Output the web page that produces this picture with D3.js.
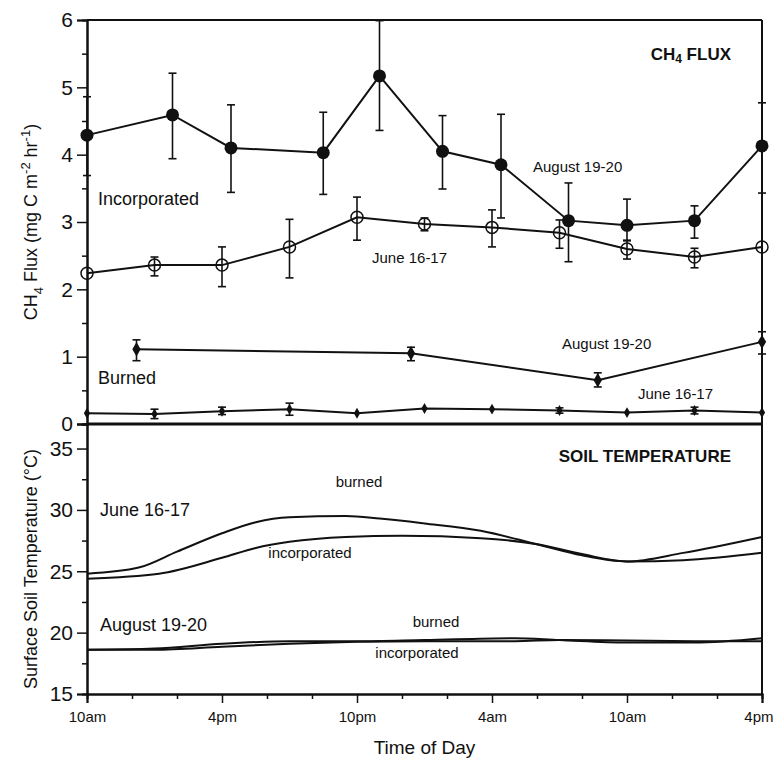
<!DOCTYPE html>
<html>
<head>
<meta charset="utf-8">
<script src="https://cdn.jsdelivr.net/npm/d3@7"></script>
<style>
  body { margin: 0; background: #fff; }
  svg text { font-family: "Liberation Sans", Arial, sans-serif; fill: #111; }
</style>
</head>
<body>
<div class="chart"></div>
<script>
// hours after 10am on day 1
const xTickHours = [0, 6, 12, 18, 24, 30];
const xTickLabels = ["10am", "4pm", "10pm", "4am", "10am", "4pm"];

// CH4 flux, incorporated, August 19-20
const augIncHours = [0, 3.8, 6.4, 10.5, 13, 15.8, 18.4, 21.4, 24, 27, 30];
const augIncFlux = [4.29, 4.59, 4.10, 4.03, 5.17, 4.05, 3.85, 3.02, 2.95, 3.02, 4.13];
const augIncLow = [3.69, 3.94, 3.44, 3.41, 4.36, 3.49, 3.06, 2.41, 2.72, 2.76, 3.43];
const augIncHigh = [4.86, 5.21, 4.74, 4.63, 5.99, 4.58, 4.60, 3.58, 3.34, 3.24, 4.77];

// CH4 flux, incorporated, June 16-17
const junIncHours = [0, 3, 6, 9, 12, 15, 18, 21, 24, 27, 30];
const junIncFlux = [2.24, 2.36, 2.36, 2.63, 3.07, 2.97, 2.92, 2.84, 2.60, 2.48, 2.63];
const junIncLow = [null, 2.20, 2.04, 2.17, 2.73, 2.87, 2.63, 2.61, 2.45, 2.32, null];
const junIncHigh = [null, 2.48, 2.63, 3.04, 3.37, 3.06, 3.18, 3.03, 2.73, 2.61, null];

// CH4 flux, burned, August 19-20
const augBurHours = [2.2, 14.4, 22.7, 30];
const augBurFlux = [1.11, 1.05, 0.65, 1.22];
const augBurLow = [0.94, 0.94, 0.55, 1.04];
const augBurHigh = [1.25, 1.14, 0.76, 1.37];

// CH4 flux, burned, June 16-17
const junBurHours = [0, 3, 6, 9, 12, 15, 18, 21, 24, 27, 30];
const junBurFlux = [0.16, 0.15, 0.19, 0.22, 0.16, 0.23, 0.22, 0.20, 0.17, 0.20, 0.17];
const junBurLow = [null, 0.08, 0.14, 0.13, null, null, null, 0.16, null, 0.15, null];
const junBurHigh = [null, 0.22, 0.25, 0.31, null, null, null, 0.24, null, 0.25, null];

// soil temperature
const junBurTHours = [0, 2.3, 4, 6, 7.5, 9, 11.5, 13, 15, 17.5, 20, 22, 24, 26.5, 30];
const junBurTemp = [24.8, 25.3, 26.6, 28.1, 29.0, 29.4, 29.5, 29.3, 28.9, 28.3, 27.2, 26.3, 25.8, 26.5, 27.8];
const junIncTHours = [0, 3.2, 6, 7.5, 9, 11.5, 14, 17.5, 20, 22, 24, 26.5, 30];
const junIncTemp = [24.4, 24.8, 26.1, 26.9, 27.4, 27.8, 27.9, 27.7, 27.2, 26.4, 25.8, 25.9, 26.5];
const augTHours = [0, 3, 6, 9, 12, 15, 19, 21, 24, 27, 30];
const augBurTemp = [18.6, 18.7, 19.1, 19.3, 19.3, 19.4, 19.55, 19.4, 19.2, 19.2, 19.55];
const augIncTemp = [18.6, 18.6, 18.85, 19.1, 19.25, 19.3, 19.3, 19.4, 19.35, 19.3, 19.3];

const W = 774, H = 766;
const plotLeft = 87, plotRight = 762, plotTop = 20, plotMid = 424, plotBottom = 694;

const svg = d3.select(".chart").append("svg")
    .attr("width", W)
    .attr("height", H);

const x = d3.scaleLinear().domain([0, 30]).range([plotLeft, plotRight]);
const yFlux = d3.scaleLinear().domain([0, 6]).range([plotMid, plotTop]);
const yTemp = d3.scaleLinear().domain([15, 37]).range([plotBottom, plotMid]);

// ---- axes ----
function styleAxis(g, fs){
    g.select(".domain").attr("stroke", "#111").attr("stroke-width", 2);
    g.selectAll(".tick line").attr("stroke", "#111").attr("stroke-width", 1.5);
    g.selectAll(".tick text").style("font-size", fs + "px").attr("fill", "#111");
}

svg.append("g")
    .attr("transform", `translate(${plotLeft},0)`)
    .call(d3.axisLeft(yFlux).tickValues(d3.range(0.5, 6, 1)).tickSize(5).tickFormat(""))
    .call(g => styleAxis(g, 20));
svg.append("g")
    .attr("transform", `translate(${plotLeft},0)`)
    .call(d3.axisLeft(yFlux).tickValues([0, 1, 2, 3, 4, 5, 6]).tickSize(10).tickPadding(4).tickFormat(d3.format("d")))
    .call(g => styleAxis(g, 21));

svg.append("g")
    .attr("transform", `translate(${plotLeft},0)`)
    .call(d3.axisLeft(yTemp).tickValues([17.5, 22.5, 27.5, 32.5]).tickSize(5).tickFormat(""))
    .call(g => styleAxis(g, 20));
svg.append("g")
    .attr("transform", `translate(${plotLeft},0)`)
    .call(d3.axisLeft(yTemp).tickValues([15, 20, 25, 30, 35]).tickSize(10).tickPadding(4).tickFormat(d3.format("d")))
    .call(g => styleAxis(g, 21));

svg.append("g")
    .attr("transform", `translate(0,${plotBottom})`)
    .call(d3.axisBottom(x).tickValues(d3.range(2, 30, 2).filter(h => h % 6 !== 0)).tickSize(5).tickFormat(""))
    .call(g => styleAxis(g, 15));
svg.append("g")
    .attr("transform", `translate(0,${plotBottom})`)
    .call(d3.axisBottom(x).tickValues(xTickHours).tickSize(9).tickPadding(8)
        .tickFormat((d, i) => xTickLabels[i]))
    .call(g => styleAxis(g, 15))
    .call(g => g.selectAll(".tick text").filter(d => d === 30)
        .attr("text-anchor", "end").attr("dx", 11));

// frame lines
svg.append("line").attr("x1", plotLeft).attr("x2", plotRight).attr("y1", plotTop).attr("y2", plotTop)
    .attr("stroke", "#111").attr("stroke-width", 2);
svg.append("line").attr("x1", plotRight).attr("x2", plotRight).attr("y1", plotTop).attr("y2", plotBottom)
    .attr("stroke", "#111").attr("stroke-width", 2);
svg.append("line").attr("x1", plotLeft).attr("x2", plotRight).attr("y1", yFlux(0)).attr("y2", yFlux(0))
    .attr("stroke", "#111").attr("stroke-width", 3);

// axis titles
svg.append("text")
    .attr("x", x(15)).attr("y", 754)
    .attr("text-anchor", "middle")
    .style("font-size", "19px")
    .text("Time of Day");

const t1 = svg.append("text")
    .attr("transform", `translate(37,${(plotTop + plotMid) / 2}) rotate(-90)`)
    .attr("text-anchor", "middle")
    .style("font-size", "18px");
t1.append("tspan").text("CH");
t1.append("tspan").attr("dy", 6).style("font-size", "13px").text("4");
t1.append("tspan").attr("dy", -6).text(" Flux (mg C m");
t1.append("tspan").attr("dy", -7).style("font-size", "13px").text("-2");
t1.append("tspan").attr("dy", 7).text(" hr");
t1.append("tspan").attr("dy", -7).style("font-size", "13px").text("-1");
t1.append("tspan").attr("dy", 7).text(")");

svg.append("text")
    .attr("transform", `translate(37,${(plotMid + plotBottom) / 2 + 10}) rotate(-90)`)
    .attr("text-anchor", "middle")
    .style("font-size", "18px")
    .text("Surface Soil Temperature (°C)");

// ---- flux series ----
const line = d3.line().x(d => x(d.h)).y(d => yFlux(d.v));

function toRows(hours, vals, lo, hi){
    return hours.map((h, i) => ({ h: h, v: vals[i], lo: lo[i], hi: hi[i] }));
}

function drawSeries(rows, marker){
    svg.append("path")
        .datum(rows)
        .attr("d", line)
        .attr("fill", "none")
        .attr("stroke", "#111")
        .attr("stroke-width", 2);

    const eb = rows.filter(d => d.lo != null);
    const g = svg.append("g").attr("stroke", "#111").attr("stroke-width", 1.6);
    g.selectAll(".v").data(eb).enter().append("line")
        .attr("x1", d => x(d.h)).attr("x2", d => x(d.h))
        .attr("y1", d => yFlux(d.lo)).attr("y2", d => yFlux(d.hi));
    g.selectAll(".lo").data(eb).enter().append("line")
        .attr("x1", d => x(d.h) - 4).attr("x2", d => x(d.h) + 4)
        .attr("y1", d => yFlux(d.lo)).attr("y2", d => yFlux(d.lo));
    g.selectAll(".hi").data(eb).enter().append("line")
        .attr("x1", d => x(d.h) - 4).attr("x2", d => x(d.h) + 4)
        .attr("y1", d => yFlux(d.hi)).attr("y2", d => yFlux(d.hi));

    if (marker === "filled"){
        svg.append("g").selectAll("circle").data(rows).enter().append("circle")
            .attr("cx", d => x(d.h)).attr("cy", d => yFlux(d.v)).attr("r", 6.5)
            .attr("fill", "#111");
    } else if (marker === "open"){
        svg.append("g").selectAll("circle").data(rows).enter().append("circle")
            .attr("cx", d => x(d.h)).attr("cy", d => yFlux(d.v)).attr("r", 6)
            .attr("fill", "none").attr("stroke", "#111").attr("stroke-width", 1.5);
    } else {
        const sz = marker === "diamond" ? 60 : 34;
        svg.append("g").selectAll("path").data(rows).enter().append("path")
            .attr("transform", d => `translate(${x(d.h)},${yFlux(d.v)})`)
            .attr("d", d3.symbol().type(d3.symbolDiamond).size(sz))
            .attr("fill", "#111");
    }
}

drawSeries(toRows(junIncHours, junIncFlux, junIncLow, junIncHigh), "open");
drawSeries(toRows(augIncHours, augIncFlux, augIncLow, augIncHigh), "filled");
drawSeries(toRows(augBurHours, augBurFlux, augBurLow, augBurHigh), "diamond");
drawSeries(toRows(junBurHours, junBurFlux, junBurLow, junBurHigh), "small");

// ---- soil temperature ----
const tline = d3.line().curve(d3.curveMonotoneX).x(d => x(d.h)).y(d => yTemp(d.v));
function drawTemp(hours, vals){
    svg.append("path")
        .datum(hours.map((h, i) => ({ h: h, v: vals[i] })))
        .attr("d", tline)
        .attr("fill", "none")
        .attr("stroke", "#111")
        .attr("stroke-width", 2);
}
drawTemp(junBurTHours, junBurTemp);
drawTemp(junIncTHours, junIncTemp);
drawTemp(augTHours, augBurTemp);
drawTemp(augTHours, augIncTemp);

// ---- annotations ----
function label(txt, cx, cy, fs, anchor, bold){
    return svg.append("text")
        .attr("x", cx).attr("y", cy)
        .attr("text-anchor", anchor || "start")
        .attr("dominant-baseline", "central")
        .style("font-size", fs + "px")
        .style("font-weight", bold ? "bold" : "normal")
        .text(txt);
}

const fluxTitle = svg.append("text")
    .attr("x", 731).attr("y", 54)
    .attr("text-anchor", "end")
    .attr("dominant-baseline", "central")
    .style("font-size", "17px")
    .style("font-weight", "bold");
fluxTitle.append("tspan").text("CH");
fluxTitle.append("tspan").attr("dy", 5).style("font-size", "12px").text("4");
fluxTitle.append("tspan").attr("dy", -5).text(" FLUX");

label("Incorporated", 98, 199, 18);
label("August 19-20", 533, 166, 15);
label("June 16-17", 372, 257, 15);
label("August 19-20", 562, 343, 15);
label("Burned", 98, 378, 18);
label("June 16-17", 638, 393, 15);

label("SOIL TEMPERATURE", 731, 456, 17, "end", true);
label("burned", 359, 481, 15, "middle");
label("June 16-17", 100, 510, 18);
label("incorporated", 310, 552, 15, "middle");
label("August 19-20", 100, 625, 18);
label("burned", 436, 621, 15, "middle");
label("incorporated", 417, 652, 15, "middle");
</script>
</body>
</html>
